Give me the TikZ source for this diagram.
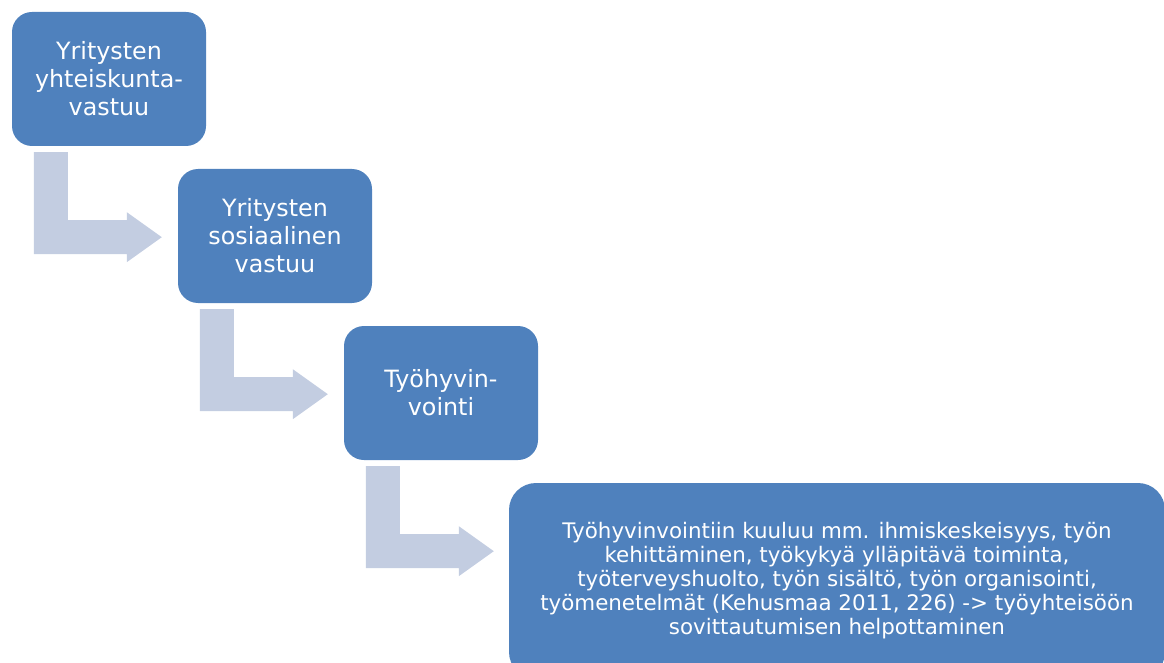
\documentclass[tikz,border=0pt]{standalone}
\usepackage{fontspec}
\setmainfont{DejaVu Sans}
\usepackage{tikz}
\usetikzlibrary{calc, positioning}

\definecolor{boxblue}{HTML}{4F81BD}
\definecolor{arrowgray}{HTML}{C3CDE1}

\tikzset{
  box/.style={fill=boxblue, text=white, align=center, inner sep=0pt,
    minimum width=194pt, minimum height=134pt, rounded corners=20pt,
    font=\fontsize{23.8}{28}\selectfont},
  bent/.style={fill=arrowgray}
}

\begin{document}
\begin{tikzpicture}[x=1pt, y=-1pt]
  \useasboundingbox (0,0) rectangle (1164,663);

  % Boxes
  \node[box] (vastuu) at (109,79) {Yritysten\\yhteiskunta-\\vastuu};
  \node[box] (sosiaal) at (275,236) {Yritysten\\sosiaalinen\\vastuu};
  \node[box] (hyvin) at (441,393) {Työhyvin-\\vointi};
  \node[box, minimum width=656pt, minimum height=196pt, rounded corners=27pt,
    font=\fontsize{21.4}{24}\selectfont] (sisalto) at (837,581)
    {Työhyvinvointiin kuuluu mm. ihmiskeskeisyys, työn\\
     kehittäminen, työkykyä ylläpitävä toiminta,\\
     työterveyshuolto, työn sisältö, työn organisointi,\\
     työmenetelmät (Kehusmaa 2011, 226) -> työyhteisöön\\
     sovittautumisen helpottaminen};

  % Bent arrows between the boxes
  \coordinate (S1) at ($(vastuu.south west)+(22,6)$);
  \coordinate (S2) at ($(sosiaal.south west)+(22,6)$);
  \coordinate (S3) at ($(hyvin.south west)+(22,6)$);

  \fill[bent] (S1) -- ++(34,0) -- ++(0,68) -- ++(59,0) -- ++(0,-8) -- ++(35,25)
    -- ++(-35,25) -- ++(0,-8) -- ++(-93,0) -- cycle;
  \fill[bent] (S2) -- ++(34,0) -- ++(0,68) -- ++(59,0) -- ++(0,-8) -- ++(35,25)
    -- ++(-35,25) -- ++(0,-8) -- ++(-93,0) -- cycle;
  \fill[bent] (S3) -- ++(34,0) -- ++(0,68) -- ++(59,0) -- ++(0,-8) -- ++(35,25)
    -- ++(-35,25) -- ++(0,-8) -- ++(-93,0) -- cycle;
\end{tikzpicture}
\end{document}
